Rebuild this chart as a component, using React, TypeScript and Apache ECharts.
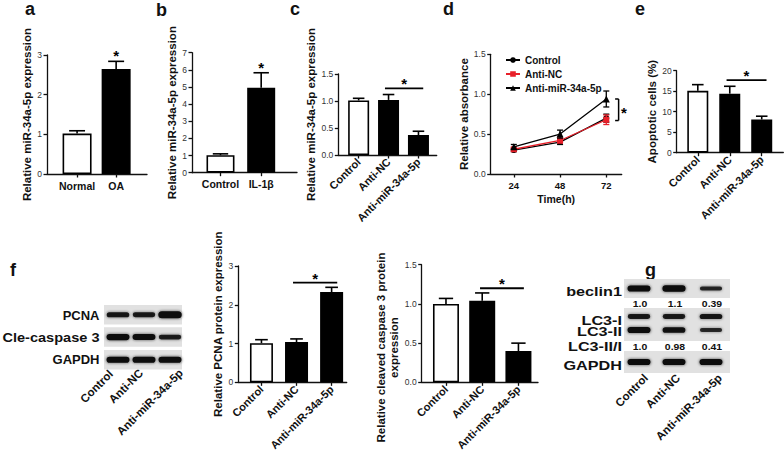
import React, { useEffect, useRef } from 'react';
import * as echarts from 'echarts';

const FONT = '"Liberation Sans", Arial, Helvetica, sans-serif';

// ---------- data ----------
// panel a
const aCategories = ['Normal', 'OA'];
const aValues = [1.02, 2.65];
const aErrors = [0.07, 0.19];
// panel b
const bCategories = ['Control', 'IL-1β'];
const bValues = [1.02, 4.96];
const bErrors = [0.08, 0.87];
// shared three-group categories
const groups = ['Control', 'Anti-NC', 'Anti-miR-34a-5p'];
// panel c
const cValues = [1.01, 1.02, 0.37];
const cErrors = [0.04, 0.1, 0.07];
const cSig = [0.88, 2.16, 1.235];
// panel d
const dTimes = [24, 48, 72];
const dSeriesNames = ['Control', 'Anti-NC', 'Anti-miR-34a-5p'];
const dControl = [0.3, 0.4, 0.7];
const dControlErr = [0.02, 0.03, 0.05];
const dAntiNC = [0.31, 0.42, 0.68];
const dAntiNCErr = [0.02, 0.03, 0.06];
const dAntiMiR = [0.34, 0.5, 0.94];
const dAntiMiRErr = [0.03, 0.05, 0.1];
const dBracket = [78.4, 0.67, 0.94];
// panel e
const eValues = [15.1, 14.4, 8.1];
const eErrors = [1.5, 1.8, 0.8];
const eSig = [0.9, 2.15, 17.7];
// panel f (charts)
const fPcnaValues = [1.01, 1.04, 2.33];
const fPcnaErrors = [0.09, 0.08, 0.12];
const fPcnaSig = [0.9, 2.16, 2.57];
const fCasValues = [1.0, 1.04, 0.4];
const fCasErrors = [0.07, 0.1, 0.1];
const fCasSig = [0.94, 2.15, 1.2];
// blots (relative band strength)
const fBlotRows = ['PCNA', 'Cle-caspase 3', 'GAPDH'];
const fPcnaBands = [0.8, 0.75, 1.2];
const fCasBands = [1.0, 0.95, 0.7];
const fGapdhBands = [1, 1, 1];
const gBlotRows = ['beclin1', 'LC3-I', 'LC3-II', 'LC3-II/I', 'GAPDH'];
const gBeclinBands = [1.0, 1.05, 0.6];
const gLC3IBands = [0.75, 0.75, 0.8];
const gLC3IIBands = [1.0, 0.9, 0.55];
const gGapdhBands = [1, 1, 1];
const gBeclinRatio = ['1.0', '1.1', '0.39'];
const gLC3Ratio = ['1.0', '0.98', '0.41'];

// ---------- layout ----------
const aYName = 'Relative miR-34a-5p expression';
const barPanels = [
  { cats: aCategories, values: aValues, errors: aErrors, grid: { left: 47, top: 55, width: 100, height: 119 }, xr: [-0.77, 1.79], yMax: 3, yStep: 1, digits: 0, barWidth: 29, yName: aYName, nameGap: 9, rotate: 0, star: [1], sig: null as number[] | null, shift: 0 },
  { cats: bCategories, values: bValues, errors: bErrors, grid: { left: 192, top: 52.7, width: 105, height: 120 }, xr: [-0.7, 1.88], yMax: 7, yStep: 1, digits: 0, barWidth: 28, yName: aYName, nameGap: 9, rotate: 0, star: [1], sig: null, shift: 0 },
  { cats: groups, values: cValues, errors: cErrors, grid: { left: 338.3, top: 74, width: 98.4, height: 81 }, xr: [-0.68, 2.61], yMax: 1.5, yStep: 0.5, digits: 1, barWidth: 21, yName: aYName, nameGap: 13, rotate: 45, star: [], sig: cSig, shift: 0 },
  { cats: groups, values: eValues, errors: eErrors, grid: { left: 676.7, top: 70.7, width: 106.6, height: 82 }, xr: [-0.66, 2.675], yMax: 20, yStep: 5, digits: 0, barWidth: 21, yName: 'Apoptotic cells (%)', nameGap: 16, rotate: 45, star: [], sig: eSig, shift: 0 },
  { cats: groups, values: fPcnaValues, errors: fPcnaErrors, grid: { left: 238.3, top: 266, width: 108.4, height: 120 }, xr: [-0.66, 2.43], yMax: 3, yStep: 1, digits: 0, barWidth: 23, yName: 'Relative PCNA protein expression', nameGap: 14, rotate: 45, star: [], sig: fPcnaSig, shift: 0 },
  { cats: groups, values: fCasValues, errors: fCasErrors, grid: { left: 421.7, top: 264.7, width: 116.3, height: 119.3 }, xr: [-0.67, 2.54], yMax: 1.5, yStep: 0.5, digits: 1, barWidth: 26, yName: 'Relative cleaved caspase 3 protein\nexpression', nameGap: 15, rotate: 45, star: [], sig: fCasSig, shift: 24 },
];

const AX = { color: '#111', width: 1.3 };

function txt(extra: any) {
  const s: any = { fill: '#111', fontFamily: FONT, fontWeight: 'bold', ...extra };
  if (s.align) s.textAlign = s.align;
  if (s.verticalAlign) s.textVerticalAlign = s.verticalAlign;
  return s;
}

function errorSeries(gi: number, values: number[], errors: number[], capW: number) {
  return {
    type: 'custom', xAxisIndex: gi, yAxisIndex: gi, z: 5, silent: true,
    data: values.map((v, i) => [i, v, v + errors[i]]),
    encode: { x: 0, y: [1, 2] },
    renderItem: (_p: any, api: any) => {
      const x = api.value(0);
      const p0 = api.coord([x, api.value(1)]);
      const p1 = api.coord([x, api.value(2)]);
      return {
        type: 'group', children: [
          { type: 'line', shape: { x1: p0[0], y1: p0[1], x2: p1[0], y2: p1[1] }, style: { stroke: '#000', lineWidth: 1.6 } },
          { type: 'line', shape: { x1: p1[0] - capW / 2, y1: p1[1], x2: p1[0] + capW / 2, y2: p1[1] }, style: { stroke: '#000', lineWidth: 1.6 } },
        ],
      };
    },
  };
}

function sigSeries(gi: number, sig: number[]) {
  return {
    type: 'custom', xAxisIndex: gi, yAxisIndex: gi, z: 6, silent: true,
    data: [sig], encode: { x: [0, 1], y: 2 },
    renderItem: (_p: any, api: any) => {
      const a = api.coord([api.value(0), api.value(2)]);
      const b = api.coord([api.value(1), api.value(2)]);
      return {
        type: 'group', children: [
          { type: 'line', shape: { x1: a[0], y1: a[1], x2: b[0], y2: b[1] }, style: { stroke: '#000', lineWidth: 1.8 } },
          { type: 'text', x: (a[0] + b[0]) / 2, y: a[1] - 4.5, style: txt({ text: '*', fontSize: 15, fill: '#000', align: 'center', verticalAlign: 'middle' }) },
        ],
      };
    },
  };
}

function starSeries(gi: number, idxs: number[], values: number[], errors: number[]) {
  return {
    type: 'custom', xAxisIndex: gi, yAxisIndex: gi, z: 6, silent: true,
    data: idxs.map((i) => [i, values[i] + errors[i]]), encode: { x: 0, y: 1 },
    renderItem: (_p: any, api: any) => {
      const c = api.coord([api.value(0), api.value(1)]);
      return { type: 'text', x: c[0], y: c[1] - 5.5, style: txt({ text: '*', fontSize: 15, fill: '#000', align: 'center', verticalAlign: 'middle' }) };
    },
  };
}

function band(cx: number, cy: number, s: number) {
  const h = 6.2 * Math.pow(s, 0.8);
  const w = 21 + 2 * s;
  const a = Math.min(1, 0.6 + 0.4 * s);
  return {
    type: 'rect', silent: true,
    shape: { x: cx - w / 2, y: cy - h / 2, width: w, height: h, r: h / 2 },
    style: { fill: `rgba(12,12,12,${a})`, shadowBlur: 3, shadowColor: `rgba(30,30,30,${0.8 * a})` },
  };
}

function buildOption() {
  const grid: any[] = [];
  const xAxis: any[] = [];
  const yAxis: any[] = [];
  const series: any[] = [];

  barPanels.forEach((p, gi) => {
    grid.push({ ...p.grid, containLabel: false });
    const idx = p.cats.map((_, i) => i);
    xAxis.push({
      gridIndex: gi, type: 'value', min: p.xr[0], max: p.xr[1], splitLine: { show: false },
      axisLine: { show: true, onZero: false, lineStyle: AX },
      axisTick: { show: true, customValues: idx, length: 3.5, lineStyle: AX },
      axisLabel: {
        customValues: idx, formatter: (v: number) => p.cats[Math.round(v)] ?? '',
        rotate: p.rotate, margin: p.rotate ? 5 : 6, fontSize: p.rotate ? 11 : 10.5, fontWeight: 'bold', color: '#111', fontFamily: FONT,
      },
    });
    yAxis.push({
      gridIndex: gi, type: 'value', min: 0, max: p.yMax, interval: p.yStep, splitLine: { show: false },
      axisLine: { show: true, onZero: false, lineStyle: AX },
      axisTick: { show: true, length: 3.5, lineStyle: AX },
      axisLabel: { fontSize: 8.5, color: '#333', margin: 5, fontFamily: FONT, formatter: (v: number) => v.toFixed(p.digits) },
      name: p.yName, nameLocation: 'middle', nameGap: p.nameGap,
      nameTextStyle: { fontSize: 11.5, fontWeight: 'bold', color: '#111', fontFamily: FONT, lineHeight: 13, align: 'center', padding: p.shift ? [0, p.shift * 2, 0, 0] : 0 },
    });
    series.push({
      type: 'bar', xAxisIndex: gi, yAxisIndex: gi, barWidth: p.barWidth, silent: true, z: 2,
      data: p.values.map((v, i) => ({ value: [i, v], itemStyle: { color: i === 0 ? '#fff' : '#000', borderColor: '#000', borderWidth: 1.6 } })),
    });
    series.push(errorSeries(gi, p.values, p.errors, p.barWidth * 0.55));
    if (p.sig) series.push(sigSeries(gi, p.sig));
    if (p.star.length) series.push(starSeries(gi, p.star, p.values, p.errors));
  });

  // panel d
  const dg = barPanels.length;
  grid.push({ left: 490.7, top: 54.3, width: 131, height: 119.7, containLabel: false });
  xAxis.push({
    gridIndex: dg, type: 'value', min: 12, max: 80, splitLine: { show: false },
    axisLine: { show: true, onZero: false, lineStyle: AX },
    axisTick: { show: true, customValues: dTimes, length: 3.5, lineStyle: AX },
    axisLabel: { customValues: dTimes, fontSize: 9.5, fontWeight: 'bold', color: '#111', margin: 6, fontFamily: FONT },
    name: 'Time(h)', nameLocation: 'middle', nameGap: 19,
    nameTextStyle: { fontSize: 10.5, fontWeight: 'bold', color: '#111', fontFamily: FONT },
  });
  yAxis.push({
    gridIndex: dg, type: 'value', min: 0, max: 1.5, interval: 0.5, splitLine: { show: false },
    axisLine: { show: true, onZero: false, lineStyle: AX },
    axisTick: { show: true, length: 3.5, lineStyle: AX },
    axisLabel: { fontSize: 8.5, color: '#333', margin: 5, fontFamily: FONT, formatter: (v: number) => v.toFixed(1) },
    name: 'Relative absorbance', nameLocation: 'middle', nameGap: 19,
    nameTextStyle: { fontSize: 11.5, fontWeight: 'bold', color: '#111', fontFamily: FONT },
  });
  const dLines = [
    { vals: dControl, errs: dControlErr, color: '#000', symbol: 'circle', size: 6 },
    { vals: dAntiNC, errs: dAntiNCErr, color: '#e8202a', symbol: 'rect', size: 6 },
    { vals: dAntiMiR, errs: dAntiMiRErr, color: '#000', symbol: 'triangle', size: 7 },
  ];
  dLines.forEach((l, k) => {
    series.push({
      type: 'line', name: dSeriesNames[k], xAxisIndex: dg, yAxisIndex: dg, silent: true, z: 3 + k,
      data: dTimes.map((t, i) => [t, l.vals[i]]), symbol: l.symbol, symbolSize: l.size, showSymbol: true,
      lineStyle: { color: l.color, width: 1.3 }, itemStyle: { color: l.color },
    });
    series.push({
      type: 'custom', xAxisIndex: dg, yAxisIndex: dg, silent: true, z: 3 + k,
      data: dTimes.map((t, i) => [t, l.vals[i] - l.errs[i], l.vals[i] + l.errs[i]]), encode: { x: 0, y: [1, 2] },
      renderItem: (_p: any, api: any) => {
        const lo = api.coord([api.value(0), api.value(1)]);
        const hi = api.coord([api.value(0), api.value(2)]);
        const st = { stroke: l.color, lineWidth: 1.3 };
        return {
          type: 'group', children: [
            { type: 'line', shape: { x1: lo[0], y1: lo[1], x2: hi[0], y2: hi[1] }, style: st },
            { type: 'line', shape: { x1: hi[0] - 3, y1: hi[1], x2: hi[0] + 3, y2: hi[1] }, style: st },
            { type: 'line', shape: { x1: lo[0] - 3, y1: lo[1], x2: lo[0] + 3, y2: lo[1] }, style: st },
          ],
        };
      },
    });
  });
  series.push({
    type: 'custom', xAxisIndex: dg, yAxisIndex: dg, silent: true, z: 8,
    data: [dBracket], encode: { x: 0, y: [1, 2] },
    renderItem: (_p: any, api: any) => {
      const b = api.coord([api.value(0), api.value(1)]);
      const t = api.coord([api.value(0), api.value(2)]);
      const st = { stroke: '#000', lineWidth: 1.5 };
      return {
        type: 'group', children: [
          { type: 'line', shape: { x1: t[0], y1: t[1], x2: b[0], y2: b[1] }, style: st },
          { type: 'line', shape: { x1: t[0] - 3.5, y1: t[1], x2: t[0], y2: t[1] }, style: st },
          { type: 'line', shape: { x1: b[0] - 3.5, y1: b[1], x2: b[0], y2: b[1] }, style: st },
          { type: 'text', x: t[0] + 2.5, y: (t[1] + b[1]) / 2 + 3, style: txt({ text: '*', fontSize: 15, fill: '#000', align: 'left', verticalAlign: 'middle' }) },
        ],
      };
    },
  });

  // ---------- graphic: letters, blots ----------
  const graphic: any[] = [];
  const letters: [string, number, number][] = [['a', 25, 9], ['b', 156, 10], ['c', 290, 9], ['d', 443, 9], ['e', 635, 9], ['f', 10, 270], ['g', 645, 270]];
  letters.forEach(([t, x, y]) => graphic.push({ type: 'text', x, y, silent: true, style: txt({ text: t, fontSize: 18, align: 'left', verticalAlign: 'middle' }) }));

  // f blot
  const fLanes = [118, 144, 170];
  const fTops = [305, 327.3, 350];
  const fLabelY = [315, 337.5, 359.5];
  const fLabelStretch = [1, 1.12, 1];
  const fBands = [fPcnaBands, fCasBands, fGapdhBands];
  fBlotRows.forEach((name, r) => {
    graphic.push({ type: 'rect', silent: true, shape: { x: 104, y: fTops[r], width: 78, height: 19.5 }, style: { fill: '#e1e1e1' } });
    fLanes.forEach((cx, j) => graphic.push(band(cx, fTops[r] + 9.75, fBands[r][j])));
    graphic.push({ type: 'text', x: 99.5, y: fLabelY[r], scaleX: fLabelStretch[r], silent: true, style: txt({ text: name, fontSize: 13, align: 'right', verticalAlign: 'middle' }) });
  });
  const fLabelEnds = [[111, 372], [141, 371], [181, 371]];
  groups.forEach((g, j) => graphic.push({ type: 'text', x: fLabelEnds[j][0], y: fLabelEnds[j][1], rotation: Math.PI / 4, silent: true, style: txt({ text: g, fontSize: 11.5, align: 'right', verticalAlign: 'middle' }) }));

  // g blot
  const gLanes = [639, 674, 711];
  graphic.push({ type: 'rect', silent: true, shape: { x: 624, y: 279, width: 106, height: 19 }, style: { fill: '#e1e1e1' } });
  graphic.push({ type: 'rect', silent: true, shape: { x: 624, y: 308, width: 106, height: 33 }, style: { fill: '#e1e1e1' } });
  graphic.push({ type: 'rect', silent: true, shape: { x: 624, y: 351, width: 106, height: 22 }, style: { fill: '#e1e1e1' } });
  gLanes.forEach((cx, j) => {
    graphic.push(band(cx, 288.5, gBeclinBands[j]));
    graphic.push(band(cx, 316.5, gLC3IBands[j]));
    graphic.push(band(cx, 330, gLC3IIBands[j]));
    graphic.push(band(cx, 362, gGapdhBands[j]));
    graphic.push({ type: 'text', x: cx + 1, y: 303.5, scaleX: 1.1, silent: true, style: txt({ text: gBeclinRatio[j], fontSize: 9.5, align: 'center', verticalAlign: 'middle' }) });
    graphic.push({ type: 'text', x: cx + 1, y: 347, scaleX: 1.1, silent: true, style: txt({ text: gLC3Ratio[j], fontSize: 9.5, align: 'center', verticalAlign: 'middle' }) });
  });
  const gLabelY = [291, 320, 331.7, 346, 365];
  gBlotRows.forEach((name, r) => graphic.push({ type: 'text', x: 622, y: gLabelY[r], scaleX: 1.2, silent: true, style: txt({ text: name, fontSize: 13.5, align: 'right', verticalAlign: 'middle' }) }));
  const gLabelEnds = [[646, 376], [678, 376], [720, 376]];
  groups.forEach((g, j) => graphic.push({ type: 'text', x: gLabelEnds[j][0], y: gLabelEnds[j][1], rotation: Math.PI / 4, silent: true, style: txt({ text: g, fontSize: 11.5, align: 'right', verticalAlign: 'middle' }) }));

  return {
    animation: false,
    backgroundColor: '#fff',
    textStyle: { fontFamily: FONT },
    legend: {
      data: dSeriesNames, orient: 'vertical', left: 500, top: 50, itemWidth: 14, itemHeight: 7, itemGap: 4,
      selectedMode: false, textStyle: { fontSize: 10, fontWeight: 'bold', color: '#111', fontFamily: FONT },
    },
    grid, xAxis, yAxis, series, graphic,
  };
}

export default function App() {
  const ref = useRef<HTMLDivElement>(null);
  useEffect(() => {
    document.body.style.margin = '0';
    const chart = echarts.init(ref.current!, null, { renderer: 'svg' });
    chart.setOption(buildOption() as any);
    return () => chart.dispose();
  }, []);
  return <div ref={ref} style={{ position: 'absolute', left: 0, top: 0, width: 784, height: 453, background: '#fff' }} />;
}
